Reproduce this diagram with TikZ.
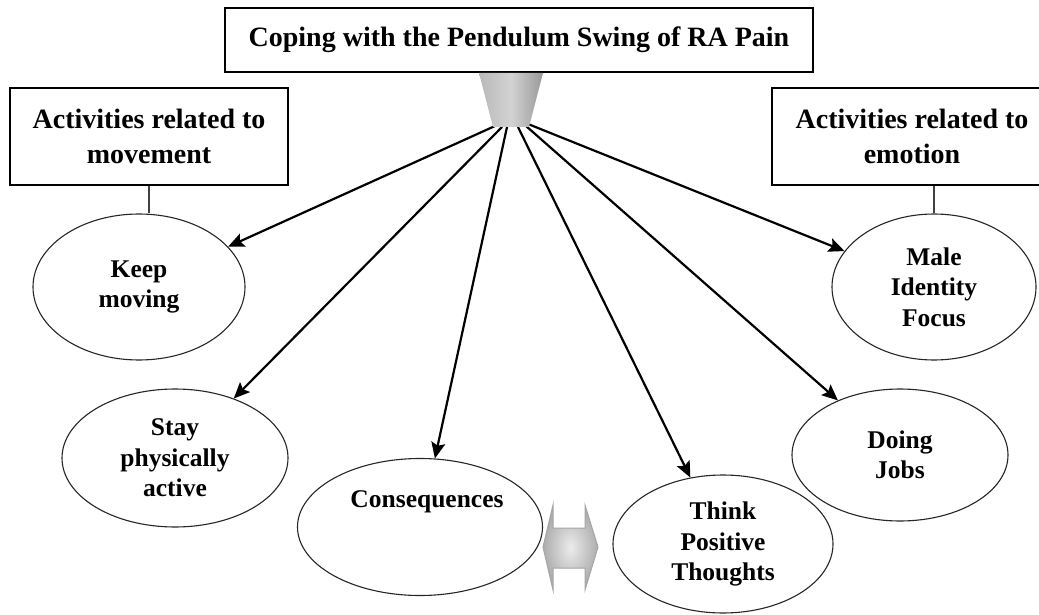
\documentclass[tikz,border=0pt]{standalone}
\usepackage{fontspec}
\setmainfont{Liberation Serif}
\usetikzlibrary{arrows.meta,shapes.geometric}
\newcommand\cpboxfont{\bfseries\fontsize{28}{35}\selectfont}
\newcommand\cpovalfont{\bfseries\fontsize{25.5}{30.5}\selectfont}
\begin{document}
\begin{tikzpicture}[x=1pt,y=-1pt,
  box/.style={draw=black, line width=1.6pt, fill=white, rectangle, align=center, font=\cpboxfont, inner sep=0pt},
  oval/.style={draw=black!85, line width=1.1pt, ellipse, align=center, font=\cpovalfont, inner sep=0pt, fill=white},
  txt/.style={align=center, font=\cpovalfont, inner sep=0pt},
  arr/.style={draw=black, line width=2.2pt, -{Stealth[length=16pt,width=14pt,inset=3pt]}},
  conn/.style={draw=black!75, line width=1.2pt}]
\useasboundingbox (0,0) rectangle (1039,615);
\clip (0,0) rectangle (1039,615);
\fill[white] (0,0) rectangle (1039,615);

% boxes
\node[box, minimum width=588pt, minimum height=64pt] (title) at (519,40) {Coping with the Pendulum Swing of RA Pain};
\node[box, minimum width=278pt, minimum height=97pt] (lbox) at (149,136.5) {Activities related to\\movement};
\node[box, minimum width=280pt, minimum height=97pt] (rbox) at (912,136.5) {Activities related to\\emotion};

% ellipses
\node[oval, minimum width=212pt, minimum height=146pt] (keep) at (139,287) {Keep\\moving};
\node[oval, minimum width=226pt, minimum height=138pt] (stay) at (175,458) {Stay\\physically\\active};
\node[oval, minimum width=245pt, minimum height=137pt] (cons) at (420,527) {};
\node[txt] (constext) at (427,502) {Consequences};
\node[oval, minimum width=220pt, minimum height=138pt] (think) at (723,544) {Think\\Positive\\Thoughts};
\node[oval, minimum width=216pt, minimum height=132pt] (doing) at (900,455) {Doing\\Jobs};
\node[oval, minimum width=204pt, minimum height=146pt] (male) at (934,287) {Male\\Identity\\Focus};

% box connectors
\draw[conn] (lbox.south) -- (lbox.south |- keep.north);
\draw[conn] (male.north) -- (male.north |- rbox.south);

% arrow start points at the pendulum
\coordinate (s1) at (495,126);
\coordinate (s2) at (502,127);
\coordinate (s3) at (507,127);
\coordinate (s4) at (518,127);
\coordinate (s5) at (526,126);
\coordinate (s6) at (528,124);

\draw[arr] (s1) -- (keep);
\draw[arr] (s2) -- (stay);
\draw[arr] (s3) -- (cons);
\draw[arr] (s4) -- (think);
\draw[arr] (s5) -- (doing);
\draw[arr] (s6) -- (male);

% pendulum weight (trapezoid)
\shade[left color=gray!55, right color=gray!80, middle color=gray!35]
  (479,73) -- (543,73) -- (529,127) -- (493,127) -- cycle;

% double arrow between Consequences and Think Positive Thoughts
\shadedraw[inner color=gray!15, outer color=gray!65, draw=gray!70, line width=1pt]
  (553,505) -- (553,528) -- (585,528) -- (585,505) -- (598,547) -- (585,590)
  -- (585,568) -- (553,568) -- (553,590) -- (543,547) -- cycle;
\end{tikzpicture}
\end{document}
